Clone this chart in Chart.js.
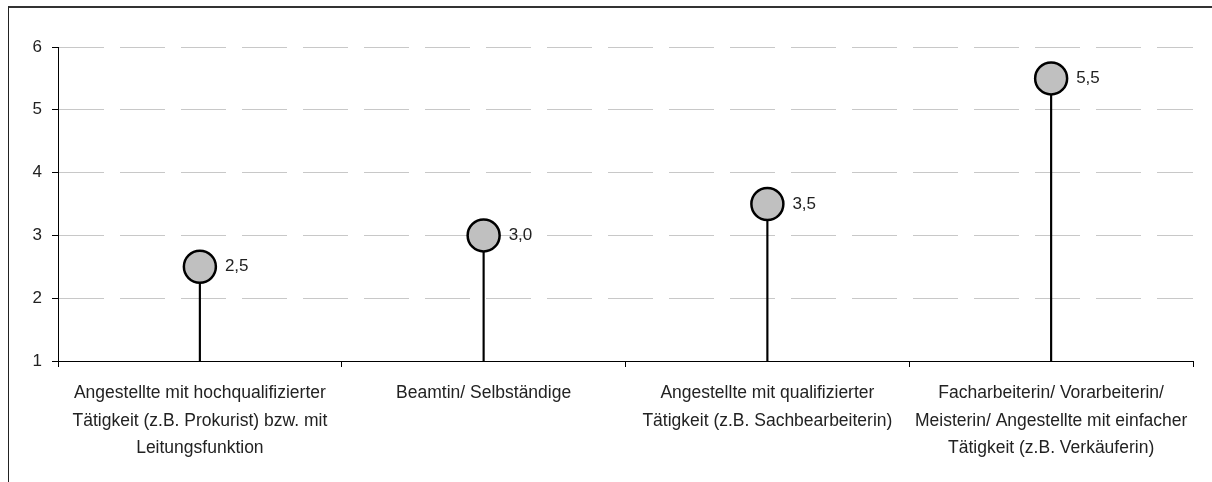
<!DOCTYPE html>
<html>
<head>
<meta charset="utf-8">
<script src="https://cdn.jsdelivr.net/npm/chart.js@4.4.0/dist/chart.umd.min.js"></script>
<style>
  html, body { margin: 0; padding: 0; background: #fff; }
  #wrap { position: relative; width: 1212px; height: 482px; }
  #frame { position: absolute; left: 8px; top: 6px; width: 1204px; height: 476px;
           border-left: 1px solid #222; border-top: 2px solid #333; pointer-events: none; }
</style>
</head>
<body>
<div id="wrap">
  <canvas id="chart" width="1212" height="482"></canvas>
  <div id="frame"></div>
</div>
<script>
// categories (multi-line labels) and values
var categories = [
    ['Angestellte mit hochqualifizierter', 'Tätigkeit (z.B. Prokurist) bzw. mit', 'Leitungsfunktion'],
    ['Beamtin/ Selbständige'],
    ['Angestellte mit qualifizierter', 'Tätigkeit (z.B. Sachbearbeiterin)'],
    ['Facharbeiterin/ Vorarbeiterin/', 'Meisterin/ Angestellte mit einfacher', 'Tätigkeit (z.B. Verkäuferin)']
];
var values = [2.5, 3.0, 3.5, 5.5];
var axisMin = 1;
var axisMax = 6;

var fontFamily = "'Liberation Sans Narrow', 'Arial Narrow', 'Liberation Sans', Arial, sans-serif";

// stems from the axis base up to each point
var stems = values.map(v => [axisMin, v]);

// value labels next to the points, German decimal comma
var valueLabels = {
    id: 'valueLabels',
    afterDatasetsDraw(chart) {
        var meta = chart.getDatasetMeta(0);
        var ctx = chart.ctx;
        ctx.save();
        ctx.font = '17px ' + fontFamily;
        ctx.fillStyle = '#222';
        ctx.textAlign = 'left';
        ctx.textBaseline = 'middle';
        meta.data.forEach(function (pt, i) {
            ctx.fillText(values[i].toFixed(1).replace('.', ','), pt.x + 25, pt.y);
        });
        ctx.restore();
    }
};

var ctx = document.getElementById('chart').getContext('2d');
var chart = new Chart(ctx, {
    data: {
        labels: categories,
        datasets: [
            {
                type: 'line',
                data: values,
                showLine: false,
                pointRadius: 16,
                pointHoverRadius: 16,
                pointBackgroundColor: '#c0c0c0',
                pointBorderColor: '#000',
                pointBorderWidth: 2.5,
                order: 0
            },
            {
                type: 'bar',
                data: stems,
                backgroundColor: '#000',
                barThickness: 1.5,
                order: 1
            }
        ]
    },
    options: {
        responsive: false,
        animation: false,
        layout: { padding: { top: 47, right: 19, bottom: 0, left: 0 } },
        plugins: {
            legend: { display: false },
            tooltip: { enabled: false }
        },
        scales: {
            x: {
                offset: true,
                grid: {
                    offset: true,
                    drawOnChartArea: false,
                    drawTicks: true,
                    tickLength: 6,
                    tickColor: '#000'
                },
                border: { display: true, color: '#000', width: 1 },
                ticks: {
                    color: '#222',
                    font: { family: fontFamily, size: 17.5, lineHeight: 1.55 },
                    padding: 13,
                    maxRotation: 0,
                    autoSkip: false
                },
                afterFit: function (scale) { scale.height = 121; }
            },
            y: {
                min: axisMin,
                max: axisMax,
                grid: {
                    color: '#c8c8c8',
                    tickColor: '#000',
                    tickLength: 6
                },
                border: { display: true, color: '#000', width: 1, dash: [45, 16] },
                ticks: {
                    stepSize: 1,
                    color: '#222',
                    font: { family: fontFamily, size: 17 },
                    padding: 10
                },
                afterFit: function (scale) { scale.width = 58; }
            }
        }
    },
    plugins: [valueLabels]
});
</script>
</body>
</html>
